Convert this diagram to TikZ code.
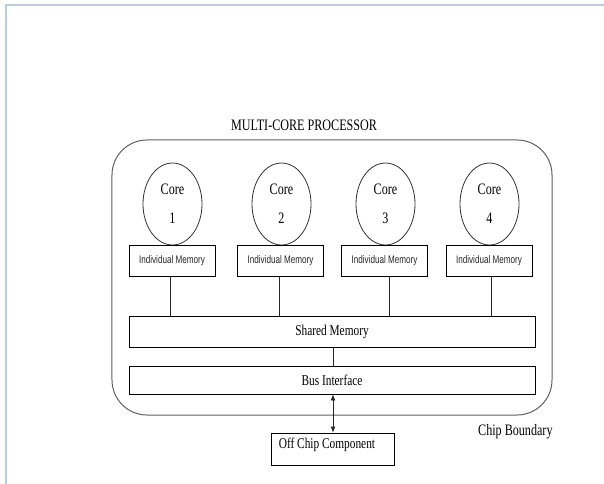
\documentclass[tikz,border=0pt]{standalone}
\usepackage{fontspec}
\usetikzlibrary{shapes.geometric,arrows.meta}
\newfontfamily\tserif[FakeStretch=0.76]{Liberation Serif}
\newfontfamily\tsans[FakeStretch=0.74]{Liberation Sans}
\definecolor{frameblue}{RGB}{184,204,228}
\definecolor{chipgray}{RGB}{96,96,96}
\tikzset{
  box/.style={draw=black, line width=0.8bp, rectangle, inner sep=0pt},
  membox/.style={box, minimum width=86bp, minimum height=31bp,
    font=\tsans\fontsize{11}{12}\selectfont, text=black!85},
  widebox/.style={box, minimum width=406bp, font=\tserif\fontsize{15}{17}\selectfont},
  corenode/.style={draw=black!80, line width=0.8bp, ellipse, inner sep=0pt,
    minimum width=59bp, minimum height=82bp, align=center,
    font=\tserif\fontsize{16}{29}\selectfont},
  chipbox/.style={draw=chipgray, line width=1bp, rounded corners=35bp, rectangle,
    minimum width=440bp, minimum height=275bp},
  caption/.style={font=\tserif\fontsize{16}{18}\selectfont, inner sep=0pt},
  link/.style={draw=black!85, line width=0.8bp},
}
\begin{document}
\begin{tikzpicture}[x=1bp, y=-1bp]
  \useasboundingbox (0,0) rectangle (604,484);
  % page frame
  \draw[frameblue, line width=2bp] (5.5,484) -- (5.5,5.5) -- (604,5.5);

  % chip boundary
  \node[chipbox] (chip) at (332,277.5) {};
  \node[caption] (title) at (304,125) {MULTI-CORE PROCESSOR};
  \node[caption, anchor=west] (chiplbl) at (478,432) {Chip Boundary};

  % cores
  \node[corenode] (c1) at (172.5,204) {Core\\1};
  \node[corenode] (c2) at (281.5,204) {Core\\2};
  \node[corenode] (c3) at (385.5,204) {Core\\3};
  \node[corenode] (c4) at (489.5,204) {Core\\4};

  % individual memories
  \node[membox] (m1) at (172,261) {Individual Memory};
  \node[membox] (m2) at (280.5,261) {Individual Memory};
  \node[membox] (m3) at (384.5,261) {Individual Memory};
  \node[membox] (m4) at (489,261) {Individual Memory};

  % shared memory and bus interface
  \node[widebox, minimum height=31bp] (sm) at (332,331.5) {Shared Memory};
  \node[widebox, minimum height=28bp] (bi) at (332,380) {Bus Interface};

  % off-chip component, caption set flush left inside the box
  \node[box, minimum width=123bp, minimum height=32bp,
    label={[anchor=west, xshift=8bp, yshift=4bp, inner sep=0pt,
      font=\tserif\fontsize{15}{17}\selectfont]west:Off Chip Component}]
    (oc) at (332.5,449) {};

  % connections
  \draw[link] ([xshift=-2bp]m1.south) -- ([xshift=-2bp]m1.south |- sm.north);
  \draw[link] ([xshift=-1.5bp]m2.south) -- ([xshift=-1.5bp]m2.south |- sm.north);
  \draw[link] ([xshift=4.5bp]m3.south) -- ([xshift=4.5bp]m3.south |- sm.north);
  \draw[link] ([xshift=2bp]m4.south) -- ([xshift=2bp]m4.south |- sm.north);
  \draw[link] ([xshift=1bp]sm.south) -- ([xshift=1bp]sm.south |- bi.north);
  \draw[link, {Latex[length=6bp,width=5bp]}-{Latex[length=6bp,width=5bp]}]
    ([xshift=1bp]bi.south) -- ([xshift=1bp]bi.south |- oc.north);
\end{tikzpicture}
\end{document}
